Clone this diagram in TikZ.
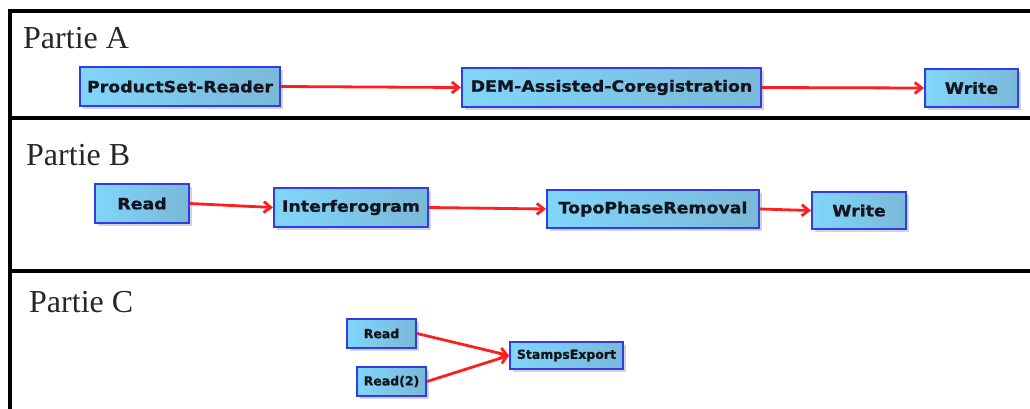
\documentclass[tikz,border=0pt]{standalone}
\usepackage{fontspec}
\setmainfont{Liberation Serif}
\newfontfamily\boxfont[FakeStretch=1.12,FakeBold=1.2]{DejaVu Sans Bold}
\newfontfamily\boxfontc[FakeBold=1]{DejaVu Sans Bold}
\usetikzlibrary{arrows.meta,shadows}
\definecolor{boxleft}{RGB}{128,214,250}
\definecolor{boxright}{RGB}{122,184,216}
\definecolor{boxborder}{RGB}{50,60,230}
\definecolor{arrowred}{RGB}{255,30,30}
\definecolor{boxtext}{RGB}{20,20,30}
\tikzset{
  procbox/.style={draw=boxborder, line width=2pt, left color=boxleft, right color=boxright,
    drop shadow={shadow xshift=2.5pt, shadow yshift=-2.5pt, opacity=0.35}, inner sep=0pt, text=boxtext},
  boxab/.style={procbox, font=\boxfont\fontsize{15.5}{17}\selectfont},
  boxc/.style={procbox, font=\boxfontc\fontsize{12.5}{14}\selectfont},
  flow/.style={draw=arrowred, line width=2.8pt, -{Straight Barb[length=7pt,width=11pt]}},
  frameline/.style={line width=3.6pt, black},
  title/.style={anchor=base west, inner sep=0pt, text=black!85, font=\fontsize{32}{36}\selectfont}
}
\begin{document}
\begin{tikzpicture}[x=1pt,y=-1pt]
\useasboundingbox (0,0) rectangle (1030,408);
% frame
\draw[frameline] (1032,11) -- (10,11) -- (10,410);
\draw[frameline] (10,118) -- (1032,118);
\draw[frameline] (10,271) -- (1032,271);
% titles
\node[title] (ta) at (23,48) {Partie A};
\node[title] (tb) at (26,165) {Partie B};
\node[title] (tc) at (29,312) {Partie C};
% Partie A
\node[boxab, minimum width=200pt, minimum height=39pt] (psr) at (180,86.5) {ProductSet-Reader};
\node[boxab, minimum width=299pt, minimum height=39pt] (dem) at (611.5,87.5) {DEM-Assisted-Coregistration};
\node[boxab, minimum width=93pt, minimum height=38pt] (wa) at (971.5,88) {Write};
\draw[flow] (psr.east) -- (dem.west);
\draw[flow] (dem.east) -- (wa.west);
% Partie B
\node[boxab, minimum width=94pt, minimum height=39pt] (rb) at (142,203.5) {Read};
\node[boxab, minimum width=154pt, minimum height=39pt] (ifg) at (351,207.5) {Interferogram};
\node[boxab, minimum width=212pt, minimum height=38pt] (topo) at (653,209) {TopoPhaseRemoval};
\node[boxab, minimum width=94pt, minimum height=37pt] (wb) at (859,210.5) {Write};
\draw[flow] (rb.east) -- (ifg.west);
\draw[flow] (ifg.east) -- (topo.west);
\draw[flow] (topo.east) -- (wb.west);
% Partie C
\node[boxc, minimum width=69pt, minimum height=29pt] (rc) at (381.5,333.5) {Read};
\node[boxc, minimum width=69pt, minimum height=29pt] (rc2) at (391.5,381.5) {Read(2)};
\node[boxc, minimum width=113pt, minimum height=27pt] (se) at (566.5,355.5) {StampsExport};
\draw[flow] (rc.east) -- (se.west);
\draw[flow] (rc2.east) -- (se.west);
\end{tikzpicture}
\end{document}
